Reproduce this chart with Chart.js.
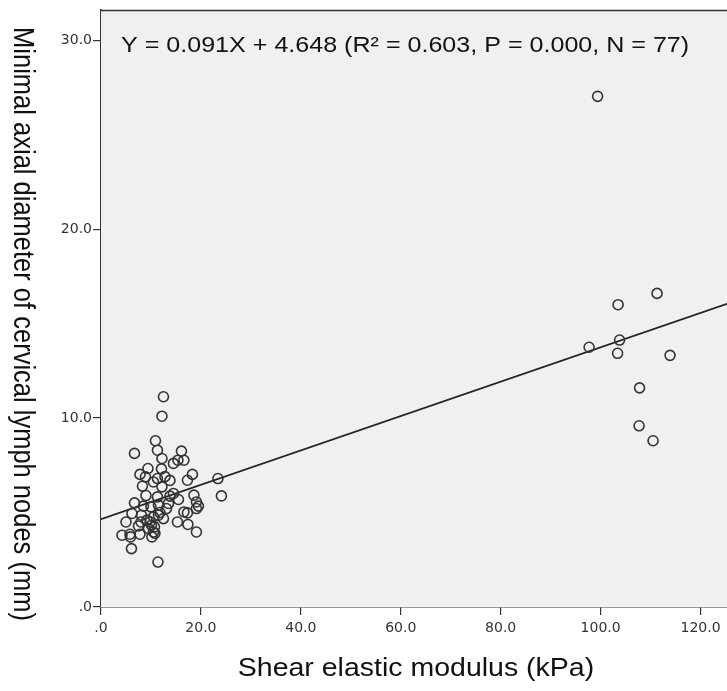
<!DOCTYPE html>
<html><head><meta charset="utf-8">
<script src="https://cdn.jsdelivr.net/npm/chart.js@4.4.1/dist/chart.umd.min.js"></script>
<style>html,body{margin:0;padding:0;background:#fff;overflow:hidden}#wrap{width:727px;height:691px}canvas{display:block}</style>
</head><body><div id="wrap"><canvas id="c" width="727" height="691"></canvas></div>
<script>
// Shear elastic modulus (kPa)
const shearX = [
  12.5,12.2,10.9,6.7,11.3,16.1,12.2,16.6,14.5,15.4,
  12.1,9.4,7.8,18.3,8.9,17.3,11.3,10.5,8.3,23.4,
  12.2,14.5,13.8,11.3,18.6,24.1,15.5,6.7,19.1,19.5,
  19.1,8.5,13.5,11.5,6.2,8.1,13.1,16.6,17.3,12.5,
  11.5,10.5,5.0,15.3,17.4,9.8,10.1,7.5,10.7,9.5,
  19.1,4.2,5.8,5.9,7.8,10.2,10.5,6.1,11.4,9.0,
  10.0,11.8,9.2,10.8,12.8,8.0,13.8,
  99.4,111.3,103.5,103.8,97.7,103.4,113.9,107.8,107.7,110.5
];
// Minimal axial diameter of cervical lymph nodes (mm)
const diamY = [
  11.13,10.1,8.8,8.13,8.3,8.25,7.86,7.77,7.6,7.77,
  7.31,7.33,7.02,7.02,6.89,6.71,6.8,6.62,6.4,6.8,
  6.36,6.01,5.87,5.83,5.92,5.88,5.69,5.51,5.56,5.34,
  5.21,5.34,5.48,5.39,4.95,4.86,5.21,5.03,4.98,4.68,
  4.86,4.77,4.5,4.5,4.37,4.5,4.33,4.29,4.24,4.15,
  3.97,3.8,3.85,3.71,3.85,3.71,3.97,3.09,2.38,5.9,
  5.3,5.0,4.6,3.9,6.9,4.5,6.7,
  27.03,16.6,16.0,14.13,13.75,13.43,13.32,11.6,9.59,8.8
];
const xTicks = [0,20,40,60,80,100,120];
const yTicks = [0,10,20,30];
const fitSlope = 0.091;
const fitIntercept = 4.648;
const xMax = 125.3;
const yMax = 31.6;
const eqText = 'Y = 0.091X + 4.648 (R\u00B2 = 0.603, P = 0.000, N = 77)';
const xTitle = 'Shear elastic modulus (kPa)';
const yTitle = 'Minimal axial diameter of cervical lymph nodes (mm)';

const FONT = '"Liberation Sans", Arial, sans-serif';
const TICKFONT = '"DejaVu Sans", "Liberation Sans", sans-serif';
const STRETCH = 1.14;
const pts = shearX.map((x,i)=>({x:x, y:diamY[i]}));
const fitLine = [{x:0, y:fitIntercept}, {x:xMax, y:fitSlope*xMax+fitIntercept}];
const fmt = v => v===0 ? '.0' : Number(v).toFixed(1);

const deco = {
  id:'deco',
  beforeDatasetsDraw(chart){
    const {ctx, chartArea:a} = chart;
    ctx.save();
    ctx.fillStyle = '#f0f0f0';
    ctx.fillRect(a.left, a.top, a.right-a.left, a.bottom-a.top);
    ctx.strokeStyle = '#333';
    ctx.lineWidth = 1.5;
    ctx.beginPath();
    ctx.moveTo(a.left, a.top+0.5);
    ctx.lineTo(a.right, a.top+0.5);
    ctx.stroke();
    ctx.restore();
  },
  afterDraw(chart){
    const {ctx} = chart;
    ctx.fillStyle = '#111';
    ctx.textBaseline = 'middle';
    // equation
    ctx.save();
    ctx.font = '22px ' + FONT;
    ctx.textAlign = 'left';
    ctx.translate(121, 46);
    ctx.scale(STRETCH, 1);
    ctx.fillText(eqText, 0, 0);
    ctx.restore();
    // x title
    ctx.save();
    ctx.font = '25px ' + FONT;
    ctx.textAlign = 'center';
    ctx.translate(416, 669);
    ctx.scale(STRETCH, 1);
    ctx.fillText(xTitle, 0, 0);
    ctx.restore();
    // y title (reads top to bottom)
    ctx.save();
    ctx.font = '25.5px ' + FONT;
    ctx.textAlign = 'center';
    ctx.translate(22, 324);
    ctx.scale(STRETCH, 1);
    ctx.rotate(Math.PI/2);
    ctx.fillText(yTitle, 0, 0);
    ctx.restore();
  }
};

const axisCommon = {
  type:'linear',
  grid:{drawOnChartArea:false, drawTicks:true, tickLength:8, color:'#333', lineWidth:1.2},
  border:{display:true, color:'#333', width:1.5},
  ticks:{font:{family:TICKFONT, size:14}, color:'#333', callback:fmt, autoSkip:false, maxRotation:0}
};

new Chart(document.getElementById('c'), {
  data:{
    datasets:[
      {type:'scatter', data:pts, pointStyle:'circle', pointRadius:5, pointBorderWidth:1.6,
       borderColor:'#333', pointBorderColor:'#333', backgroundColor:'rgba(0,0,0,0)', pointBackgroundColor:'rgba(0,0,0,0)',
       pointHoverRadius:5},
      {type:'line', data:fitLine, borderColor:'#222', borderWidth:1.7, pointRadius:0, fill:false, tension:0}
    ]
  },
  options:{
    responsive:false, animation:false, devicePixelRatio:1,
    layout:{autoPadding:false, padding:{top:10, right:0, left:0, bottom:0}},
    plugins:{legend:{display:false}, tooltip:{enabled:false}},
    events:[],
    scales:{
      x:Object.assign({}, axisCommon, {
        min:0, max:xMax,
        ticks:Object.assign({}, axisCommon.ticks, {padding:5}),
        afterBuildTicks:s=>{ s.ticks = xTicks.map(v=>({value:v})); },
        afterFit:s=>{ s.height = 691-607; s.paddingLeft = 0; s.paddingRight = 0; }
      }),
      y:Object.assign({}, axisCommon, {
        min:0, max:yMax,
        ticks:Object.assign({}, axisCommon.ticks, {padding:1}),
        afterBuildTicks:s=>{ s.ticks = yTicks.map(v=>({value:v})); },
        afterFit:s=>{ s.width = 101; s.paddingTop = 0; s.paddingBottom = 0; }
      })
    }
  },
  plugins:[deco]
});
</script></body></html>
